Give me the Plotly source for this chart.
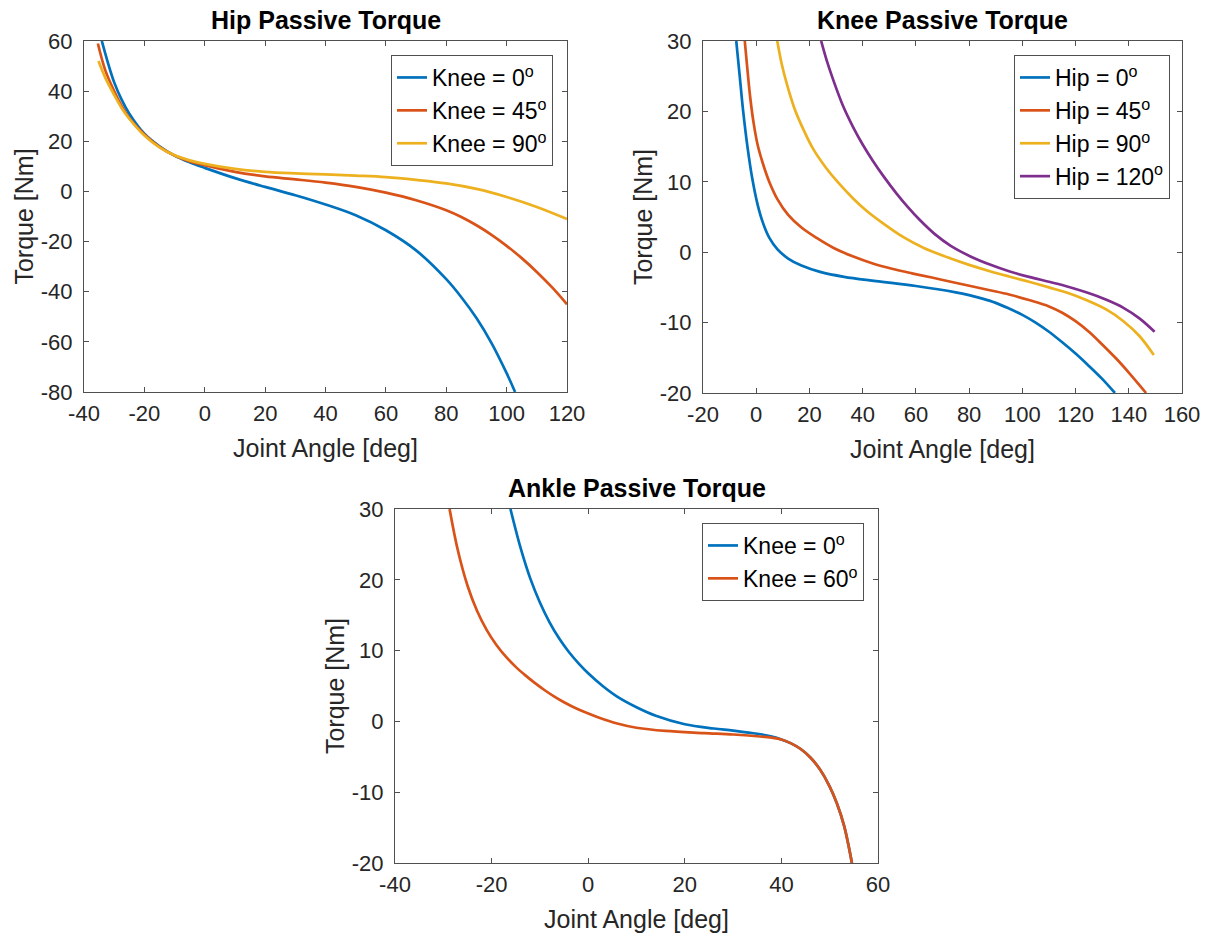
import plotly.graph_objects as go

# ---------------- data ----------------
# Hip passive torque
hip_k0_x = [-34.1, -32, -30, -27.5, -25, -20, -15, -10, -5, 0, 10, 20, 30, 40, 50, 60, 70, 80, 85, 90, 95, 100, 102.8]
hip_k0_y = [60, 51, 43.5, 36.5, 31, 23, 18, 14.3, 11.6, 9.4, 5.3, 1.8, -1.5, -5.2, -9.5, -15.5, -23.5, -35, -42.2, -50.5, -60.5, -72.5, -80]
hip_k45_x = [-35.4, -33, -30, -27.5, -25, -20, -15, -10, -5, 0, 10, 20, 30, 40, 50, 60, 70, 80, 85, 90, 95, 100, 105, 110, 115, 120]
hip_k45_y = [59, 48.5, 40, 34, 29.3, 22.7, 17.8, 14.3, 12, 10.5, 7.8, 6, 4.8, 3.5, 1.8, -0.5, -3.5, -7.5, -10.2, -13.5, -17.3, -21.7, -26.6, -32.1, -38.2, -45]
hip_k90_x = [-35.2, -33, -30, -27.5, -25, -20, -15, -10, -5, 0, 10, 20, 30, 40, 50, 60, 70, 80, 90, 100, 110, 120]
hip_k90_y = [52, 45.5, 38.5, 33.2, 29, 22.3, 17.6, 14.4, 12.4, 11, 9, 7.8, 7.2, 6.8, 6.3, 5.7, 4.6, 3.2, 1, -2.2, -6.2, -11]

# Knee passive torque
knee_h0_x = [-7.5, -6.2, -4.9, -3.3, -1.5, 0.5, 2.5, 5, 8, 12, 17, 24, 33, 45, 60, 75, 80, 85, 90, 95, 100, 105, 110, 115, 120, 125, 130, 134.8]
knee_h0_y = [30, 25, 20, 15, 10.5, 6.8, 4.2, 2.0, 0.4, -0.9, -1.9, -2.8, -3.5, -4.1, -4.8, -5.7, -6.1, -6.6, -7.2, -8.0, -8.9, -10.0, -11.3, -12.8, -14.4, -16.15, -18.0, -20]
knee_h45_x = [-4.3, -3.2, -2.2, -1.0, 0.5, 2.5, 5, 8, 12, 17, 23, 29.1, 36, 43.8, 51, 58.5, 66, 73.1, 80.5, 87.8, 95, 102.5, 110, 115, 120, 125, 130, 135, 140, 146.5]
knee_h45_y = [30, 25.5, 21.8, 18.4, 15.3, 12.6, 9.9, 7.5, 5.3, 3.5, 1.95, 0.6, -0.55, -1.6, -2.35, -3.0, -3.6, -4.2, -4.8, -5.4, -6.0, -6.8, -7.7, -8.6, -9.8, -11.3, -13.1, -15.0, -17.1, -20]
knee_h90_x = [7.9, 9.6, 11.5, 14.2, 17.4, 21.5, 26.2, 31, 36.5, 42, 48, 55, 63, 73.1, 80, 87.8, 95, 102.5, 110, 117.2, 124, 131.8, 138, 144, 149.4]
knee_h90_y = [30, 26.7, 23.9, 20.6, 17.7, 14.6, 12.0, 9.8, 7.6, 5.7, 4.0, 2.2, 0.6, -0.9, -1.8, -2.7, -3.45, -4.2, -5.0, -5.8, -6.8, -8.2, -9.8, -11.9, -14.6]
knee_h120_x = [24.4, 26.6, 29.1, 32.6, 36.5, 40, 43.8, 48, 52.6, 57, 61.4, 67, 73.1, 80.5, 87.8, 95, 102.5, 110, 117.2, 124, 131.8, 138, 144, 149.7]
knee_h120_y = [30, 27.1, 24.3, 20.8, 17.7, 15.3, 13.0, 10.7, 8.4, 6.4, 4.6, 2.6, 0.9, -0.6, -1.75, -2.7, -3.5, -4.2, -4.9, -5.7, -6.8, -7.9, -9.4, -11.3]

# Ankle passive torque
ank_k0_x = [-16.1, -14, -12, -10, -8, -6, -4, -2, 0, 3, 6, 10, 14, 20, 26, 30, 35, 38, 40, 42, 44, 46, 48, 50, 51.5, 53, 54.6]
ank_k0_y = [30, 24.5, 20.2, 16.8, 14.0, 11.7, 9.8, 8.2, 6.8, 5.0, 3.5, 2.0, 0.8, -0.4, -1.0, -1.3, -1.75, -2.15, -2.55, -3.1, -3.9, -5.1, -6.8, -9.2, -11.6, -14.8, -20]
ank_k60_x = [-28.7, -27, -25, -23, -21, -19, -17, -15, -13, -11, -9, -7, -5, -3, -1, 2, 6, 10, 16, 24, 30, 35, 38, 40, 42, 44, 46, 48, 50, 51.5, 53, 54.6]
ank_k60_y = [30, 24.2, 19.2, 15.6, 12.9, 10.8, 9.1, 7.7, 6.5, 5.4, 4.4, 3.5, 2.7, 2.0, 1.4, 0.6, -0.3, -0.9, -1.35, -1.65, -1.85, -2.1, -2.3, -2.55, -3.1, -3.9, -5.1, -6.8, -9.2, -11.6, -14.8, -20]

hip_labels = ["Knee = 0<sup>o</sup>", "Knee = 45<sup>o</sup>", "Knee = 90<sup>o</sup>"]
knee_labels = ["Hip = 0<sup>o</sup>", "Hip = 45<sup>o</sup>", "Hip = 90<sup>o</sup>", "Hip = 120<sup>o</sup>"]
ankle_labels = ["Knee = 0<sup>o</sup>", "Knee = 60<sup>o</sup>"]

# tick values and labels (hyphen minus as in the reference)
hip_xticks = [-40, -20, 0, 20, 40, 60, 80, 100, 120]
hip_yticks = [-80, -60, -40, -20, 0, 20, 40, 60]
knee_xticks = [-20, 0, 20, 40, 60, 80, 100, 120, 140, 160]
knee_yticks = [-20, -10, 0, 10, 20, 30]
ank_xticks = [-40, -20, 0, 20, 40, 60]
ank_yticks = [-20, -10, 0, 10, 20, 30]

colors = ["#0072BD", "#D95319", "#EDB120", "#7E2F8E"]

W, H = 1214, 938
FONT = "Liberation Sans, Arial, Helvetica, sans-serif"
TXT = "#262626"
LINE = "#505050"

fig = go.Figure()

def add(x, y, name, c, xa, ya, leg):
    fig.add_trace(go.Scatter(x=x, y=y, name=name, mode="lines",
                             line=dict(color=c, width=2.7, shape="spline", smoothing=1.0),
                             xaxis=xa, yaxis=ya, legend=leg))

for xs, ys, lab, c in zip([hip_k0_x, hip_k45_x, hip_k90_x], [hip_k0_y, hip_k45_y, hip_k90_y], hip_labels, colors):
    add(xs, ys, lab, c, "x", "y", "legend")
for xs, ys, lab, c in zip([knee_h0_x, knee_h45_x, knee_h90_x, knee_h120_x],
                          [knee_h0_y, knee_h45_y, knee_h90_y, knee_h120_y], knee_labels, colors):
    add(xs, ys, lab, c, "x2", "y2", "legend2")
for xs, ys, lab, c in zip([ank_k0_x, ank_k60_x], [ank_k0_y, ank_k60_y], ankle_labels, colors):
    add(xs, ys, lab, c, "x3", "y3", "legend3")

def px_x(p):
    return p / W

def px_y(p):
    return 1 - p / H

def axis(domain, rng, ticks, title, anchor, standoff, lab_off):
    return dict(domain=domain, range=rng, anchor=anchor, automargin=False,
                tickmode="array", tickvals=ticks, ticktext=[str(t) for t in ticks],
                showline=True, linecolor=LINE, linewidth=1, mirror="ticks",
                ticks="inside", ticklen=5, tickcolor=LINE, tickwidth=1,
                showgrid=False, zeroline=False,
                tickfont=dict(family=FONT, size=22, color=TXT),
                ticklabelstandoff=lab_off,
                title=dict(text=title, font=dict(family=FONT, size=25, color=TXT), standoff=standoff))

# axes pixel boxes (left, right, top, bottom)
hip_box = (84, 567, 41, 392)
knee_box = (703, 1182, 41, 393)
ank_box = (395, 878, 509, 863)

def dom(b):
    return [px_x(b[0]), px_x(b[1])], [px_y(b[3]), px_y(b[2])]

hx, hy = dom(hip_box)
kx, ky = dom(knee_box)
ax_, ay_ = dom(ank_box)

fig.update_layout(
    width=W, height=H, margin=dict(l=0, r=0, t=0, b=0),
    paper_bgcolor="white", plot_bgcolor="white",
    font=dict(family=FONT, color=TXT),
    xaxis=axis(hx, [-40, 120], hip_xticks, "Joint Angle [deg]", "y", 14, 2),
    yaxis=axis(hy, [-80, 60], hip_yticks, "Torque [Nm]", "x", 0, 6),
    xaxis2=axis(kx, [-20, 160], knee_xticks, "Joint Angle [deg]", "y2", 14, 2),
    yaxis2=axis(ky, [-20, 30], knee_yticks, "Torque [Nm]", "x2", 0, 6),
    xaxis3=axis(ax_, [-40, 60], ank_xticks, "Joint Angle [deg]", "y3", 14, 2),
    yaxis3=axis(ay_, [-20, 30], ank_yticks, "Torque [Nm]", "x3", 0, 6),
)

def legend(xr, yt):
    return dict(x=px_x(xr), y=px_y(yt), xanchor="right", yanchor="top",
                bgcolor="white", bordercolor=LINE, borderwidth=1,
                font=dict(family=FONT, size=23, color="#000000"),
                itemwidth=30, tracegroupgap=0)

fig.update_layout(legend=legend(553, 55), legend2=legend(1170, 55), legend3=legend(864, 523))

titles = [("Hip Passive Torque", hip_box), ("Knee Passive Torque", knee_box), ("Ankle Passive Torque", ank_box)]
for t, b in titles:
    fig.add_annotation(text="<b>" + t + "</b>", xref="paper", yref="paper",
                       x=px_x((b[0] + b[1]) / 2), y=px_y(b[2] - 5), xanchor="center", yanchor="bottom",
                       showarrow=False, font=dict(family=FONT, size=25, color="#000000"))

fig.write_html("out.html")
